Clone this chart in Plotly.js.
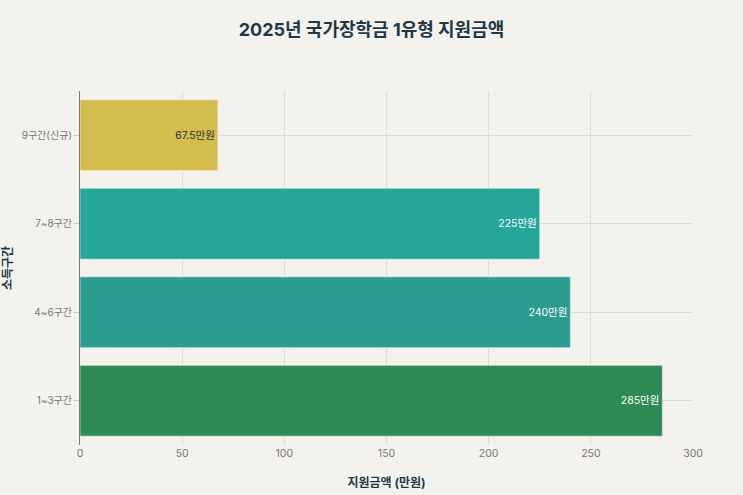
<!DOCTYPE html>
<html>
<head>
<meta charset="utf-8">
<script src="https://cdn.plot.ly/plotly-3.0.1.min.js"></script>
<style>html,body{margin:0;padding:0;background:#F3F2EC;}</style>
</head>
<body>
<div id="chart" style="width:743px;height:495px;"></div>
<script>
const categories = ['1~3구간', '4~6구간', '7~8구간', '9구간(신규)'];
const amounts = [285, 240, 225, 67.5];
const labels = ['285만원', '240만원', '225만원', '67.5만원'];
const barColors = ['#2E8B57', '#2A9D8F', '#26A69A', '#D4BC4E'];
const textColors = ['#FFFFFF', '#FFFFFF', '#FFFFFF', '#333333'];
const xTicks = [0, 50, 100, 150, 200, 250, 300];

const font = 'Inter, "Noto Sans CJK KR", "Noto Sans", sans-serif';

Plotly.newPlot('chart', [{
  type: 'bar',
  orientation: 'h',
  y: categories,
  x: amounts,
  text: labels,
  textposition: 'inside',
  insidetextanchor: 'end',
  textangle: 0,
  textfont: {family: font, size: 10.5, color: textColors},
  marker: {color: barColors, line: {color: 'rgba(255,255,255,0.5)', width: 1}},
  hoverinfo: 'none',
  cliponaxis: false
}], {
  width: 743, height: 495,
  paper_bgcolor: '#F3F2EC',
  plot_bgcolor: '#F3F2EC',
  margin: {l: 80, r: 50, t: 91, b: 50},
  bargap: 0.2,
  showlegend: false,
  title: {text: '<b>2025년 국가장학금 1유형 지원금액</b>', x: 0.5, xanchor: 'center', y: 0.94, yanchor: 'middle',
          font: {family: font, size: 18, color: '#1F3A46'}},
  xaxis: {
    range: [0, 300], tickvals: xTicks, ticktext: xTicks.map(String),
    showgrid: true, gridcolor: '#DDDCD6', gridwidth: 1,
    zeroline: false, showline: false,
    ticks: '', tickfont: {family: font, size: 10.5, color: '#777'},
    title: {text: '<b>지원금액 (만원)</b>', font: {family: font, size: 12, color: '#1F3A46'}, standoff: 20}
  },
  yaxis: {
    showgrid: true, gridcolor: '#DDDCD6',
    showline: true, linecolor: '#777', linewidth: 1,
    ticks: 'outside', ticklen: 5, tickcolor: '#CCC',
    tickfont: {family: font, size: 10, color: '#777'},
    title: {text: '<b>소득구간</b>', font: {family: font, size: 12, color: '#1F3A46'}, standoff: 20}
  }
}, {displayModeBar: false, staticPlot: true});
</script>
</body>
</html>
